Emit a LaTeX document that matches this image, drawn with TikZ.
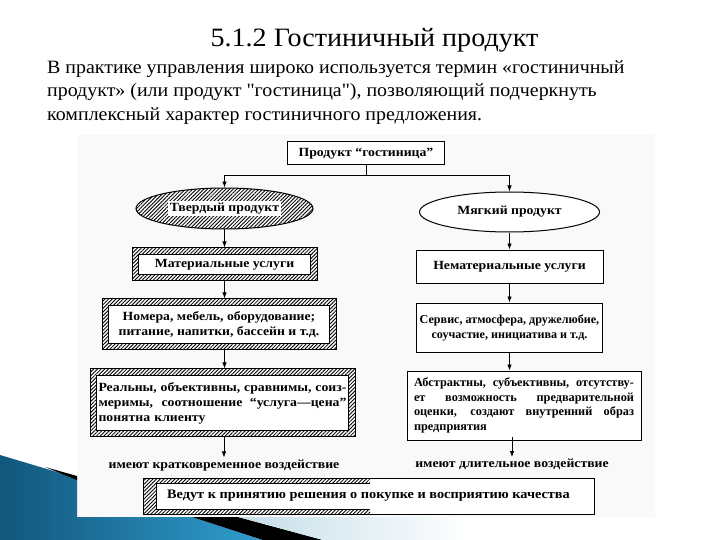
\documentclass[tikz,border=0pt]{standalone}
\usepackage{fontspec}
\setmainfont{Liberation Serif}
\newfontfamily\widefont[FakeStretch=1.1]{Liberation Serif}
\newfontfamily\headfont[FakeStretch=1.06]{Liberation Serif}
\usetikzlibrary{arrows.meta,positioning,shapes.geometric,patterns.meta}
\newcommand{\jline}[1]{{\spaceskip=0pt\xspaceskip=0pt\makebox[\hsize][s]{#1}}}
\begin{document}
\begin{tikzpicture}
    [x=1pt, y=-1pt, font=\widefont\bfseries\fontsize{12.5}{15}\selectfont,
    % STYLES
    % hatch is the striped fill of the left column
    hatch/.style={pattern={Lines[angle=45,distance=2.6pt,line width=.85pt]}},
    % narrow text of the right column
    narrowtext/.style={font=\rmfamily\bfseries\fontsize{12.1}{15}\selectfont},
    % plainbox is a white box with a single frame
    plainbox/.style={rectangle, draw, line width=1pt, fill=white, inner sep=3pt, align=center},
    % hatchbox has a striped frame round a white inner box
    hatchbox/.style={rectangle, draw, line width=1pt, hatch, inner sep=3pt, align=center,
        path picture={\filldraw[fill=white, draw=black, line width=.8pt]
        ([shift={(6.5pt,-6.5pt)}]path picture bounding box.north west) rectangle
        ([shift={(-6.5pt,6.5pt)}]path picture bounding box.south east);}},
    % ellipses for the two kinds of product
    prodell/.style={ellipse, draw, line width=1pt, fill=white, inner sep=0pt},
    arr/.style={-{Latex[length=6pt,width=4.5pt]}, line width=.8pt}]

    \useasboundingbox (0,0) rectangle (720,540);

    % Background of the scan and the blue corner of the slide
    \fill[gray!5] (77,135) rectangle (655,517);
    \shade[left color={rgb,255:red,18;green,86;blue,124}, right color={rgb,255:red,48;green,158;blue,206}]
        (0,455) -- (77,478) -- (77,517) -- (192,517) -- (263,540) -- (0,540) -- cycle;
    \fill[black] (45,467) -- (77,476) -- (77,480) -- cycle;
    \fill[black] (192,517) -- (238,517) -- (323,540) -- (263,540) -- cycle;
    \shade[left color={rgb,255:red,196;green,221;blue,233}, right color=white]
        (238,517) -- (470,517) -- (470,540) -- (323,540) -- cycle;

    % Heading and text
    \node[font=\headfont\fontsize{26.5}{30}\selectfont] (title) at (374.5,40) {5.1.2 Гостиничный продукт};
    \node[anchor=north west, align=left, inner sep=0pt, font=\headfont\fontsize{18.8}{23.5}\selectfont] (intro) at (47,60) {
    В практике управления широко используется термин «гостиничный\\
    продукт» (или продукт "гостиница"), позволяющий подчеркнуть\\
    комплексный характер гостиничного предложения.};

    % Draw product
    \node[plainbox, minimum width=157pt, minimum height=23pt] (prod) at (366,153.5) {Продукт “гостиница”};
    \coordinate (split) at (366,175);
    \node[prodell, hatch, minimum width=177pt, minimum height=41pt] (tverd) at (224.5,208.5)
        {\setlength{\fboxsep}{1.5pt}\colorbox{white}{Твердый продукт}};
    \node[prodell, minimum width=180pt, minimum height=40pt] (myag) at (509.5,212) {Мягкий продукт};

    % Left column
    \node[hatchbox, minimum width=185pt, minimum height=33pt, below=18pt of tverd] (mat) {Материальные услуги};
    \node[hatchbox, minimum width=234pt, minimum height=51pt, below=17pt of mat, xshift=-5.5pt] (vesch) {
    Номера, мебель, оборудование;\\
    питание, напитки, бассейн и т.д.};
    \node[hatchbox, minimum width=265pt, minimum height=68pt, below=18pt of vesch, xshift=3.5pt, text width=248pt, align=left] (real) {
    \jline{Реальны, объективны, сравнимы, соиз-}\\
    \jline{меримы, соотношение “услуга—цена”}\\
    понятна клиенту};
    \node[inner sep=2pt, below=20pt of real, xshift=1.5pt] (kratk) {имеют кратковременное воздействие};

    % Right column
    \node[plainbox, minimum width=187pt, minimum height=33pt, below=17pt of myag] (nemat) {Нематериальные услуги};
    \node[plainbox, narrowtext, minimum width=181pt, minimum height=49pt, below=19pt of nemat] (serv) {
    Сервис, атмосфера, дружелюбие,\\
    соучастие, инициатива и т.д.};
    \node[plainbox, narrowtext, font=\rmfamily\bfseries\fontsize{12.3}{14.5}\selectfont, minimum width=234pt, minimum height=69pt, below=18pt of serv, xshift=14.5pt, text width=220pt, align=left] (abstr) {
    \jline{Абстрактны, субъективны, отсутству-}\\
    \jline{ет возможность предварительной}\\
    \jline{оценки, создают внутренний образ}\\
    предприятия};
    \coordinate (abstrout) at (512,437);
    \node[inner sep=2pt, below=20pt of abstrout] (dlit) {имеют длительное воздействие};

    % Result
    \node[rectangle, draw, line width=1pt, fill=white, minimum width=451pt, minimum height=36pt,
        font=\widefont\bfseries\fontsize{13}{15}\selectfont,
        path picture={
        \fill[hatch] (path picture bounding box.north west) rectangle ([xshift=227pt]path picture bounding box.south west);
        \fill[white] ([shift={(13pt,-5pt)}]path picture bounding box.north west) rectangle ([shift={(0pt,5pt)}]path picture bounding box.south east);
        \draw[line width=.8pt] ([shift={(227pt,-5pt)}]path picture bounding box.north west) -| ([shift={(13pt,5pt)}]path picture bounding box.south west) -- ([shift={(227pt,5pt)}]path picture bounding box.south west);}]
        (vedut) at (368.5,496) {Ведут к принятию решения о покупке и восприятию качества};

    % Connectors
    \draw[line width=.8pt] (prod.south) -- (split);
    \draw[arr] (split) -| (tverd.north);
    \draw[arr] (split) -| (myag.north);
    \draw[arr] (tverd.south) -- (mat.north);
    \draw[arr] (mat.south) -- (mat.south |- vesch.north);
    \draw[arr] (vesch.south -| mat.south) -- (mat.south |- real.north);
    \draw[arr] (real.south -| kratk.north) -- (kratk.north);
    \draw[arr] (myag.south) -- (myag.south |- nemat.north);
    \draw[arr] (nemat.south) -- (serv.north);
    \draw[arr] (serv.south) -- (serv.south |- abstr.north);
    \draw[arr] (abstrout) -- (dlit.north);
\end{tikzpicture}
\end{document}
